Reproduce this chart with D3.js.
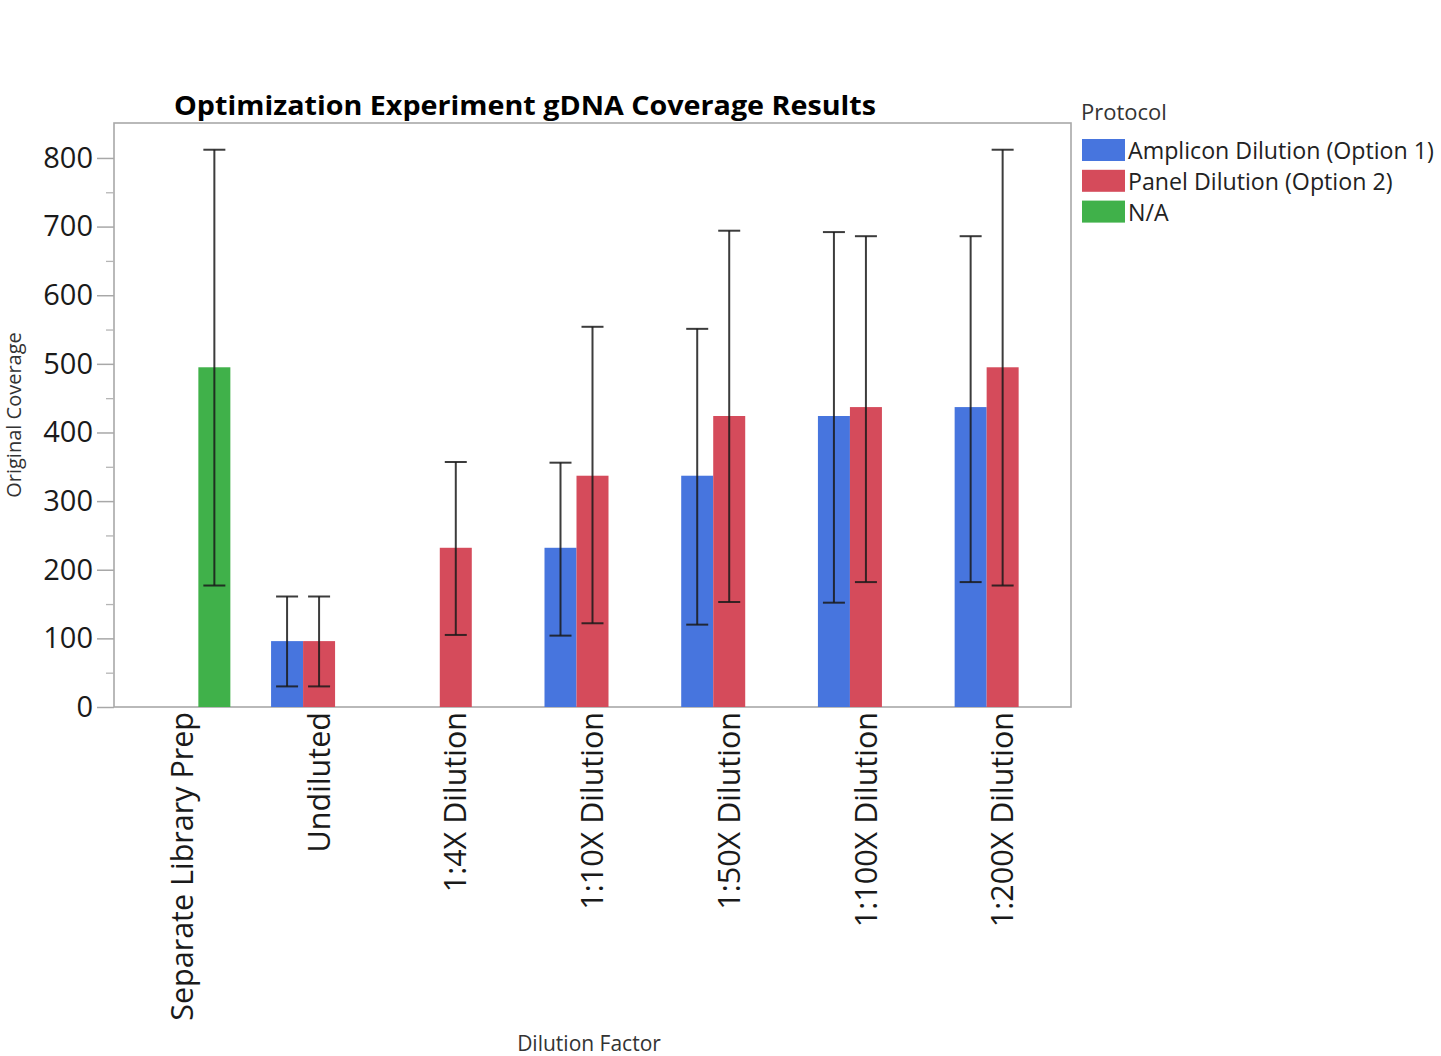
<!DOCTYPE html>
<html>
<head>
<meta charset="utf-8">
<script src="https://cdn.jsdelivr.net/npm/d3@7"></script>
<style>
  html, body { margin: 0; padding: 0; background: #fff; }
  svg { display: block; }
  text { font-family: "Open Sans", "Noto Sans", sans-serif; }
</style>
</head>
<body>
<svg id="chart" width="1441" height="1056"></svg>
<script>
// Dilution categories along the x axis
const categories = ["Separate Library Prep", "Undiluted", "1:4X Dilution", "1:10X Dilution",
                    "1:50X Dilution", "1:100X Dilution", "1:200X Dilution"];
// Protocol levels
const protocols = ["Amplicon Dilution (Option 1)", "Panel Dilution (Option 2)", "N/A"];
const protocolColors = ["#4775de", "#d54b5b", "#40b14a"];

// Mean coverage per category for each protocol (null = no data)
const ampliconMean = [null, 96, null, 232, 337, 424, 437];
const panelMean    = [null, 96, 232, 337, 424, 437, 495];
const naMean       = [495, null, null, null, null, null, null];
// Error bar extents (low / high)
const ampliconLow  = [null, 30, null, 104, 120, 152, 182];
const ampliconHigh = [null, 161, null, 356, 551, 692, 686];
const panelLow     = [null, 30, 105, 122, 153, 182, 177];
const panelHigh    = [null, 161, 357, 554, 694, 686, 812];
const naLow        = [177, null, null, null, null, null, null];
const naHigh       = [812, null, null, null, null, null, null];

const yTicks = [0, 100, 200, 300, 400, 500, 600, 700, 800];
const yMinorTicks = [50, 150, 250, 350, 450, 550, 650, 750];

const means = [ampliconMean, panelMean, naMean];
const lows = [ampliconLow, panelLow, naLow];
const highs = [ampliconHigh, panelHigh, naHigh];

const rows = [];
protocols.forEach((p, pi) => {
  categories.forEach((c, ci) => {
    if (means[pi][ci] != null) {
      rows.push({ cat: c, protocol: p, pi, value: means[pi][ci], low: lows[pi][ci], high: highs[pi][ci] });
    }
  });
});

const svg = d3.select("#chart");
const plot = { left: 114, right: 1071, top: 123, bottom: 707 };

const x0 = d3.scaleBand().domain(categories).range([plot.left, plot.right]).padding(0);
const x1 = d3.scaleBand().domain(protocols).range([0, x0.bandwidth()]).paddingInner(0).paddingOuter(0.636);
const y = d3.scaleLinear().domain([0, 850.9]).range([plot.bottom, plot.bottom - 850.9 * 0.6863]);

// Plot frame
svg.append("rect")
  .attr("x", plot.left).attr("y", plot.top)
  .attr("width", plot.right - plot.left).attr("height", plot.bottom - plot.top)
  .attr("fill", "none").attr("stroke", "#a8a8a8").attr("stroke-width", 1.6);

// Bars
svg.append("g").selectAll("rect").data(rows).join("rect")
  .attr("x", d => x0(d.cat) + x1(d.protocol))
  .attr("y", d => y(d.value))
  .attr("width", x1.bandwidth())
  .attr("height", d => y(0) - y(d.value))
  .attr("fill", d => protocolColors[d.pi]);

// Error bars
const eb = svg.append("g").attr("stroke", "#1a1a1a").attr("stroke-width", 2).attr("stroke-opacity", 0.85);
rows.forEach(d => {
  const cx = x0(d.cat) + x1(d.protocol) + x1.bandwidth() / 2;
  const g = eb.append("g");
  g.append("line").attr("x1", cx).attr("x2", cx).attr("y1", y(d.low)).attr("y2", y(d.high));
  g.append("line").attr("x1", cx - 11).attr("x2", cx + 11).attr("y1", y(d.high)).attr("y2", y(d.high));
  g.append("line").attr("x1", cx - 11).attr("x2", cx + 11).attr("y1", y(d.low)).attr("y2", y(d.low));
});

// Y axis
const yAxis = d3.axisLeft(y).tickValues(yTicks).tickSize(17).tickPadding(4).tickFormat(d3.format("d"));
const yg = svg.append("g").attr("transform", `translate(${plot.left},0)`).call(yAxis);
yg.select(".domain").remove();
yg.selectAll(".tick line").attr("stroke", "#a8a8a8").attr("stroke-width", 1.5);
yg.selectAll(".tick text").attr("font-size", 29).attr("fill", "#1a1a1a");
// minor ticks
const yMinor = d3.axisLeft(y).tickValues(yMinorTicks).tickSize(8).tickFormat("");
const ym = svg.append("g").attr("transform", `translate(${plot.left},0)`).call(yMinor);
ym.select(".domain").remove();
ym.selectAll(".tick line").attr("stroke", "#b5b5b5").attr("stroke-width", 1.3);

// X axis labels (rotated)
const xAxis = d3.axisBottom(x0).tickSize(0).tickPadding(0);
const xg = svg.append("g").attr("transform", `translate(0,${plot.bottom})`).call(xAxis);
xg.select(".domain").remove();
xg.selectAll(".tick text")
  .attr("font-size", 30.5).attr("fill", "#1a1a1a")
  .attr("text-anchor", "end")
  .attr("transform", "rotate(-90)")
  .attr("x", -5).attr("y", 0).attr("dy", "0.35em");

// Title
svg.append("text")
  .attr("x", 525).attr("y", 115)
  .attr("text-anchor", "middle")
  .attr("font-size", 27).attr("font-weight", "bold").attr("fill", "#000")
  .attr("textLength", 702).attr("lengthAdjust", "spacingAndGlyphs")
  .text("Optimization Experiment gDNA Coverage Results");

// Axis titles
svg.append("text")
  .attr("transform", "translate(21,415) rotate(-90)")
  .attr("text-anchor", "middle").attr("font-size", 20).attr("fill", "#333")
  .text("Original Coverage");
svg.append("text")
  .attr("x", 589).attr("y", 1051)
  .attr("text-anchor", "middle").attr("font-size", 21).attr("fill", "#333")
  .text("Dilution Factor");

// Legend
const lg = svg.append("g");
lg.append("text").attr("x", 1081).attr("y", 120).attr("font-size", 22).attr("fill", "#333").text("Protocol");
protocols.forEach((p, i) => {
  const yy = 139 + i * 30.8;
  lg.append("rect").attr("x", 1082).attr("y", yy).attr("width", 43).attr("height", 22)
    .attr("fill", protocolColors[i]);
  lg.append("text").attr("x", 1128).attr("y", yy + 20).attr("font-size", 23.2).attr("fill", "#222").text(p);
});
</script>
</body>
</html>
